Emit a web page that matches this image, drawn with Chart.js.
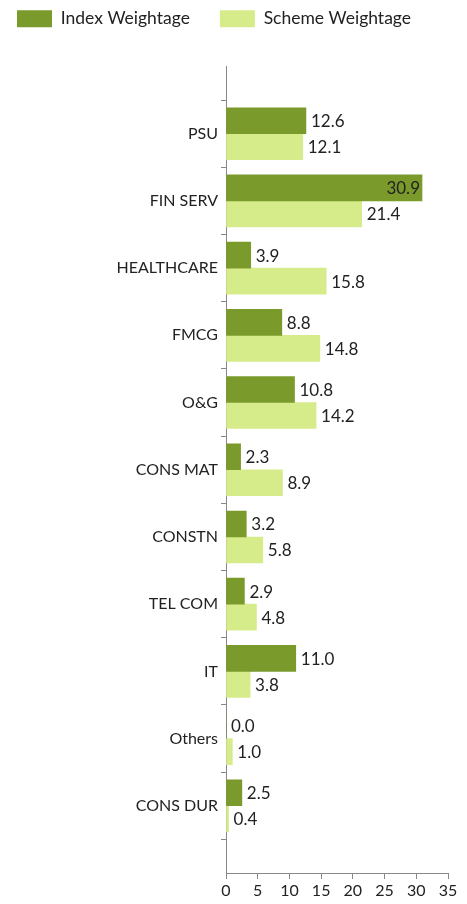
<!DOCTYPE html>
<html lang="en">
<head>
<meta charset="UTF-8">
<script src="https://cdn.jsdelivr.net/npm/chart.js@4.4.0/dist/chart.umd.min.js"></script>
<title>Weightage</title>
<style>
  html, body { margin: 0; padding: 0; background: #fff; }
  .chart-container { position: relative; width: 467px; height: 904px; }
</style>
</head>
<body>
<div class="chart-container">
  <canvas id="myChart"></canvas>
</div>
<script>
// empty labels at both ends give the gap above PSU / below CONS DUR
const sectors = ['', 'PSU', 'FIN SERV', 'HEALTHCARE', 'FMCG', 'O&G', 'CONS MAT', 'CONSTN', 'TEL COM', 'IT', 'Others', 'CONS DUR', ''];
const indexWeightage  = [null, 12.6, 30.9, 3.9, 8.8, 10.8, 2.3, 3.2, 2.9, 11.0, 0.0, 2.5, null];
const schemeWeightage = [null, 12.1, 21.4, 15.8, 14.8, 14.2, 8.9, 5.8, 4.8, 3.8, 1.0, 0.4, null];

const darkGreen = '#7a9a2b';
const lightGreen = '#d6ec8a';
const fontFamily = 'Lato, "Open Sans", sans-serif';

// value labels at the end of each bar
const valueLabels = {
  id: 'valueLabels',
  afterDatasetsDraw(chart) {
    const ctx = chart.ctx;
    ctx.save();
    ctx.font = '17px ' + fontFamily;
    ctx.fillStyle = '#222';
    ctx.textBaseline = 'middle';
    chart.data.datasets.forEach((ds, di) => {
      chart.getDatasetMeta(di).data.forEach((bar, i) => {
        const v = ds.data[i];
        if (v === null) return;
        const txt = v.toFixed(1);
        const w = ctx.measureText(txt).width;
        if (bar.x + 5 + w > chart.chartArea.right) {
          ctx.textAlign = 'right';
          ctx.fillText(txt, bar.x - 2, bar.y + 1);
        } else {
          ctx.textAlign = 'left';
          ctx.fillText(txt, bar.x + 5, bar.y + 1);
        }
      });
    });
    ctx.restore();
  }
};

// extra room between legend and plot
const legendSpacer = {
  id: 'legendSpacer',
  afterInit(chart) {
    const fit = chart.legend.fit;
    chart.legend.fit = function () {
      fit.call(this);
      this.height += 29;
    };
  }
};

const config = {
  type: 'bar',
  data: {
    labels: sectors,
    datasets: [{
      label: 'Index Weightage',
      data: indexWeightage,
      backgroundColor: darkGreen,
      barThickness: 26
    }, {
      label: 'Scheme Weightage',
      data: schemeWeightage,
      backgroundColor: lightGreen,
      barThickness: 26
    }]
  },
  options: {
    indexAxis: 'y',
    responsive: true,
    maintainAspectRatio: false,
    animation: false,
    layout: { padding: { left: -13, right: 19, top: -20, bottom: 0 } },
    scales: {
      x: {
        min: 0,
        max: 35,
        ticks: { stepSize: 5, color: '#222', font: { family: fontFamily, size: 16 }, padding: 2 },
        grid: { drawOnChartArea: false, drawTicks: true, tickLength: 6, color: '#888' },
        border: { color: '#888' },
        afterFit(scale) { scale.height = 31; }
      },
      y: {
        offset: false,
        ticks: { color: '#222', font: { family: fontFamily, size: 16 }, padding: 3, autoSkip: false },
        grid: { drawOnChartArea: false, drawTicks: true, tickLength: 5, color: '#888' },
        border: { color: '#888' },
        afterFit(scale) { scale.width = 239; }
      }
    },
    plugins: {
      legend: {
        position: 'top',
        align: 'start',
        labels: {
          boxWidth: 35,
          boxHeight: 17,
          padding: 30,
          color: '#222',
          font: { family: fontFamily, size: 17.5 }
        }
      },
      tooltip: { enabled: false }
    }
  },
  plugins: [valueLabels, legendSpacer]
};

new Chart(document.getElementById('myChart').getContext('2d'), config);
</script>
</body>
</html>
